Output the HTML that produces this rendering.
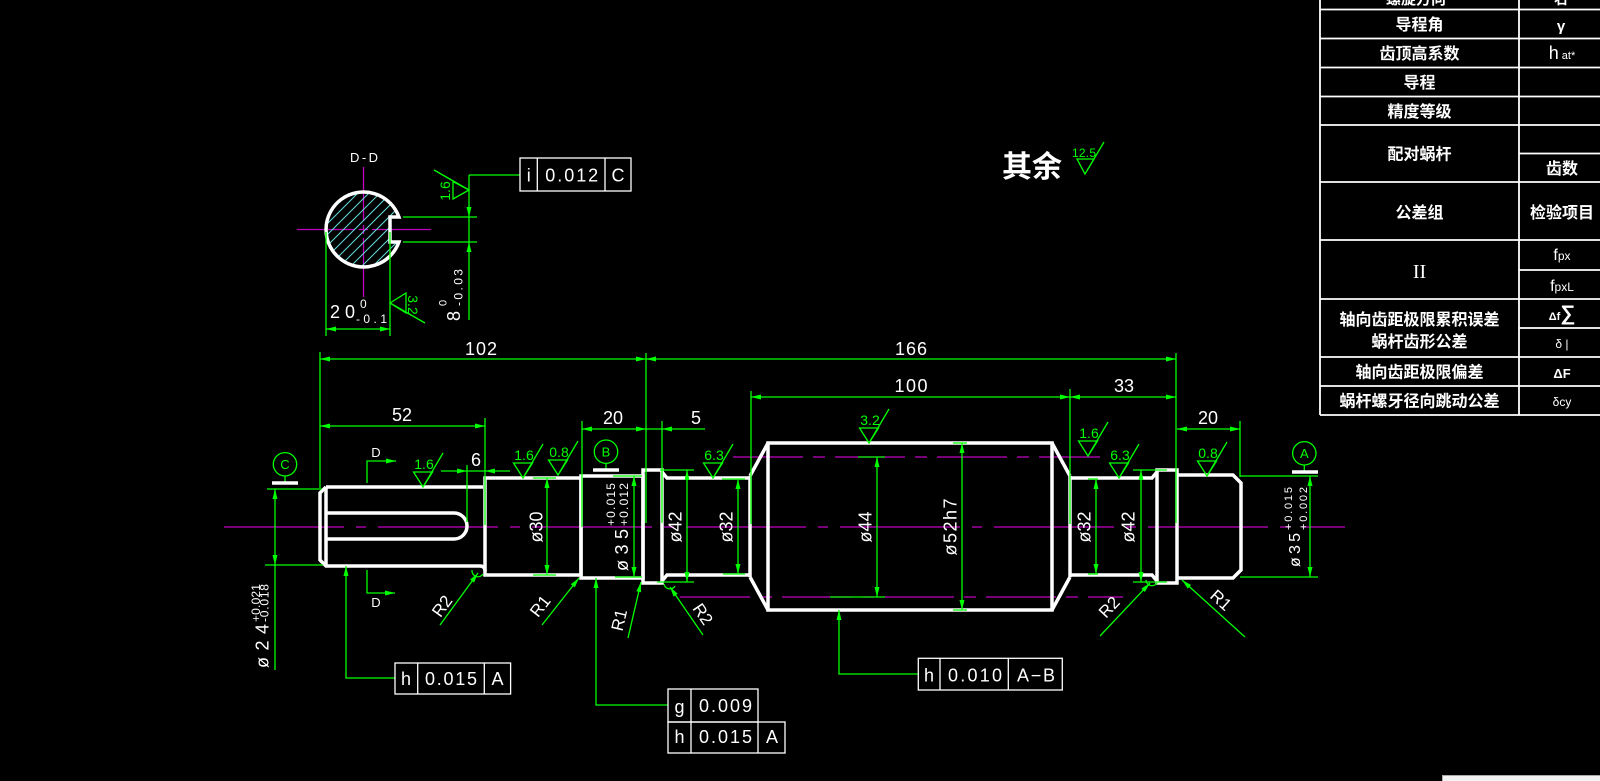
<!DOCTYPE html>
<html><head><meta charset="utf-8">
<style>
html,body{margin:0;padding:0;background:#000;}
svg{display:block;}
.t{fill:#fff;font-family:"Liberation Sans","Noto Sans CJK SC",sans-serif;}
.gt{fill:#00ff00;font-family:"Liberation Sans",sans-serif;}
.cj{fill:#fff;font-family:"Liberation Sans","Noto Sans CJK SC",sans-serif;font-weight:bold;}
</style></head>
<body>
<svg width="1600" height="781" viewBox="0 0 1600 781" xmlns="http://www.w3.org/2000/svg">
<rect width="1600" height="781" fill="#000"/>
<defs>
<clipPath id="ddclip"><path d="M398.9 217 A37.5 37.5 0 1 0 398.9 242 L390 242 L390 217 Z"/></clipPath>
</defs>

<!-- ===== TABLE ===== -->
<g stroke="#fff" stroke-width="1.8" fill="none">
<line x1="1320" y1="0" x2="1320" y2="415"/>
<line x1="1519" y1="0" x2="1519" y2="415"/>
<line x1="1320" y1="9.5" x2="1600" y2="9.5"/>
<line x1="1320" y1="38.5" x2="1600" y2="38.5"/>
<line x1="1320" y1="67.5" x2="1600" y2="67.5"/>
<line x1="1320" y1="96.5" x2="1600" y2="96.5"/>
<line x1="1320" y1="125" x2="1600" y2="125"/>
<line x1="1519" y1="153.5" x2="1600" y2="153.5"/>
<line x1="1320" y1="182" x2="1600" y2="182"/>
<line x1="1320" y1="240" x2="1600" y2="240"/>
<line x1="1519" y1="270" x2="1600" y2="270"/>
<line x1="1320" y1="299" x2="1600" y2="299"/>
<line x1="1519" y1="328" x2="1600" y2="328"/>
<line x1="1320" y1="357" x2="1600" y2="357"/>
<line x1="1320" y1="386" x2="1600" y2="386"/>
<line x1="1320" y1="415" x2="1600" y2="415"/>
</g>
<g text-anchor="middle">
<text class="cj" x="1416" y="4" style="font-size:15px">螺旋方向</text>
<text class="cj" x="1561" y="4" style="font-size:14px">右</text>
<text class="cj" x="1419.5" y="30" style="font-size:16px">导程角</text>
<text class="cj" x="1561" y="31" style="font-size:15px">γ</text>
<text class="cj" x="1419.5" y="59" style="font-size:16px">齿顶高系数</text>
<text class="t" x="1562" y="59"><tspan font-size="18">h</tspan><tspan font-size="11"> at*</tspan></text>
<text class="cj" x="1419.5" y="88" style="font-size:16px">导程</text>
<text class="cj" x="1419.5" y="117" style="font-size:16px">精度等级</text>
<text class="cj" x="1419.5" y="159.5" style="font-size:16px">配对蜗杆</text>
<text class="cj" x="1562" y="174" style="font-size:16px">齿数</text>
<text class="cj" x="1419.5" y="218" style="font-size:16px">公差组</text>
<text class="cj" x="1562" y="218" style="font-size:16px">检验项目</text>
<text x="1419.5" y="278" fill="#fff" font-family="Liberation Serif,serif" font-size="20">II</text>
<text class="t" x="1562" y="260"><tspan font-size="16">f</tspan><tspan font-size="12">px</tspan></text>
<text class="t" x="1562" y="291"><tspan font-size="16">f</tspan><tspan font-size="12">pxL</tspan></text>
<text class="cj" x="1419.5" y="325" style="font-size:16px">轴向齿距极限累积误差</text>
<text class="cj" x="1419.5" y="347" style="font-size:16px">蜗杆齿形公差</text>
<text class="t" x="1562" y="320" font-weight="bold"><tspan font-size="11">Δf</tspan><tspan font-size="21">∑</tspan></text>
<text class="t" x="1562" y="348" font-size="12">δ |</text>
<text class="cj" x="1419.5" y="377.5" style="font-size:16px">轴向齿距极限偏差</text>
<text class="t" x="1562" y="378" font-size="13" font-weight="bold">ΔF</text>
<text class="cj" x="1419.5" y="406.5" style="font-size:16px">蜗杆螺牙径向跳动公差</text>
<text class="t" x="1562" y="406" font-size="12">δcy</text>
</g>

<!-- 其余 -->
<text class="cj" x="1032" y="177" style="font-size:30px" text-anchor="middle">其余</text>

<!-- ===== MAGENTA CENTER LINES ===== -->
<g stroke="#c000c0" stroke-width="1.3" fill="none">
<line x1="224" y1="527" x2="1345" y2="527" stroke-dasharray="120 12 10 12"/>
<line x1="733" y1="457" x2="1100" y2="457" stroke-dasharray="70 10 12 10"/>
<line x1="680" y1="597" x2="1123" y2="597" stroke-dasharray="70 10 12 10"/>
<line x1="297" y1="229.5" x2="355" y2="229.5"/>
<line x1="359" y1="229.5" x2="368" y2="229.5"/>
<line x1="372" y1="229.5" x2="431" y2="229.5"/>
<line x1="363.5" y1="167" x2="363.5" y2="221"/>
<line x1="363.5" y1="225" x2="363.5" y2="234"/>
<line x1="363.5" y1="238" x2="363.5" y2="297"/>
</g>

<!-- ===== D-D SECTION ===== -->
<g clip-path="url(#ddclip)" stroke="#66dddd" stroke-width="1" fill="none">
<path d="M355 185L265 275M366 185L276 275M377 185L287 275M388 185L298 275M399 185L309 275M410 185L320 275M421 185L331 275M432 185L342 275M443 185L353 275M454 185L364 275M465 185L375 275"/>
</g>
<path d="M398.9 217 A37.5 37.5 0 1 0 398.9 242 L390 242 L390 217 Z" stroke="#fff" stroke-width="3.5" fill="none"/>
<text class="t" x="364" y="162" font-size="13" text-anchor="middle" textLength="28">D-D</text>

<!-- ===== SHAFT (white) ===== -->
<g stroke="#fff" stroke-width="3.5" fill="none" stroke-linejoin="miter">
<path d="M326 487 L483 487"/>
<path d="M326 487 L320 493 L320 560 L326 566 L480 566 Q485 566 485 571"/>
<line x1="326" y1="487" x2="326" y2="566"/>
<path d="M326 513 L454 513 A13 13 0 0 1 454 539 L326 539"/>
<rect x="485" y="478" width="96" height="97"/>
<rect x="581" y="476" width="62" height="102"/>
<rect x="643" y="470" width="19" height="113"/>
<path d="M662 472 L667 478 L750 478 M662 581 L667 575 L750 575"/>
<path d="M750 476 L750 577 M750 476 L768 443 M750 577 L768 610"/>
<rect x="768" y="443" width="284" height="167"/>
<path d="M1052 443 L1070 476 M1052 610 L1070 577 M1070 476 L1070 577"/>
<path d="M1070 478 L1152 478 L1157 472 M1070 575 L1152 575 L1157 581"/>
<rect x="1157" y="470" width="20" height="113"/>
<path d="M1177 475 L1233 475 L1241 483 L1241 570 L1233 578 L1177 578"/>
</g>

<!-- ===== GREEN LINES ===== -->
<g stroke="#00ff00" stroke-width="1.3" fill="none">
<line x1="320" y1="359" x2="1176" y2="359"/>
<line x1="320" y1="426" x2="485" y2="426"/>
<line x1="441" y1="471" x2="510" y2="471"/>
<line x1="582" y1="429" x2="705" y2="429"/>
<line x1="751" y1="397" x2="1176" y2="397"/>
<line x1="1177" y1="429" x2="1240" y2="429"/>
<line x1="320" y1="352" x2="320" y2="488"/>
<line x1="646" y1="353" x2="646" y2="523"/>
<line x1="485" y1="418" x2="485" y2="525"/>
<line x1="467" y1="465" x2="467" y2="522"/>
<line x1="582" y1="421" x2="582" y2="527"/>
<line x1="662" y1="421" x2="662" y2="523"/>
<line x1="751" y1="391" x2="751" y2="524"/>
<line x1="1070" y1="389" x2="1070" y2="524"/>
<line x1="1176" y1="353" x2="1176" y2="523"/>
<line x1="1240" y1="421" x2="1240" y2="477"/>
<line x1="267" y1="489" x2="322" y2="489"/>
<line x1="265" y1="565" x2="323" y2="565"/>
<line x1="275" y1="489" x2="275" y2="670"/>
<line x1="547" y1="478" x2="547" y2="575"/><line x1="533" y1="478" x2="556" y2="478"/><line x1="533" y1="575" x2="556" y2="575"/>
<line x1="634" y1="476" x2="634" y2="577"/><line x1="613" y1="476" x2="642" y2="476"/><line x1="615" y1="577" x2="642" y2="577"/>
<line x1="687" y1="470" x2="687" y2="582"/><line x1="660" y1="470" x2="694" y2="470"/><line x1="657" y1="582" x2="694" y2="582"/>
<line x1="738" y1="479" x2="738" y2="574"/><line x1="722" y1="479" x2="745" y2="479"/><line x1="723" y1="574" x2="745" y2="574"/>
<line x1="877" y1="457" x2="877" y2="597"/><line x1="858" y1="457" x2="885" y2="457"/><line x1="830" y1="597" x2="885" y2="597"/>
<line x1="962" y1="443" x2="962" y2="610"/><line x1="953" y1="443" x2="967" y2="443"/><line x1="953" y1="610" x2="967" y2="610"/>
<line x1="1096" y1="479" x2="1096" y2="574"/><line x1="1088" y1="479" x2="1098" y2="479"/><line x1="1088" y1="574" x2="1098" y2="574"/>
<line x1="1141" y1="470" x2="1141" y2="582"/><line x1="1133" y1="470" x2="1167" y2="470"/><line x1="1133" y1="582" x2="1167" y2="582"/>
<line x1="1310" y1="476" x2="1310" y2="577"/><line x1="1240" y1="476" x2="1318" y2="476"/><line x1="1240" y1="577" x2="1318" y2="577"/>
<path d="M367 483 V461 H396"/>
<path d="M367 570 V593 H395"/>
<circle cx="285" cy="464.3" r="11.7"/><line x1="285" y1="476" x2="285" y2="482"/>
<circle cx="606" cy="451.7" r="11.7"/><line x1="606" y1="463.4" x2="606" y2="469"/>
<circle cx="1304.3" cy="453.3" r="11.7"/><line x1="1304.3" y1="465" x2="1304.3" y2="471"/>
<path d="M346 566 V678 H395"/>
<path d="M596 578 V705 H668"/>
<path d="M839 610 V674 H918"/>
<line x1="440" y1="625" x2="478" y2="573"/>
<line x1="542" y1="625" x2="579" y2="578"/>
<line x1="628" y1="638" x2="641" y2="582"/>
<line x1="703" y1="635" x2="670" y2="587"/>
<line x1="1100" y1="636" x2="1150" y2="583"/>
<line x1="1245" y1="637" x2="1182" y2="580"/>
<path d="M472 570 a6 6 0 0 0 11 4"/>
<path d="M664 584 a6 6 0 0 0 11 2"/>
<path d="M1146 580 a6 6 0 0 0 11 3"/>
<path d="M413.5 472H432.5L423 487Z M423 487L443 453"/>
<path d="M513.5 463H532.5L523 478Z M523 478L543 444"/>
<path d="M548.5 460H567.5L558 475Z M558 475L578 441"/>
<path d="M703.5 463H722.5L713 478Z M713 478L733 444"/>
<path d="M859.5 428H878.5L869 443Z M869 443L889 409"/>
<path d="M1078.5 441H1097.5L1088 456Z M1088 456L1108 422"/>
<path d="M1109.5 463H1128.5L1119 478Z M1119 478L1139 444"/>
<path d="M1197.5 461H1216.5L1207 476Z M1207 476L1227 442"/>
<path d="M1077 159H1094L1085 174Z M1085 174L1104 142"/>
<line x1="326" y1="232" x2="326" y2="336"/>
<line x1="390" y1="232" x2="390" y2="336"/>
<line x1="326" y1="329" x2="390" y2="329"/>
<line x1="403" y1="217" x2="477" y2="217"/>
<line x1="403" y1="242" x2="477" y2="242"/>
<line x1="469" y1="175" x2="469" y2="320"/>
<line x1="469" y1="175" x2="520" y2="175"/>
<path d="M469 190 L453 181.5 L453 199 Z M469 190 L434 170"/>
<path d="M390 303 L406 293 L406 313 Z M390 303 L425 323"/>
</g>

<g stroke="#fff" stroke-width="3.5">
<line x1="272" y1="483" x2="298" y2="483"/>
<line x1="593" y1="470" x2="619" y2="470"/>
<line x1="1292" y1="472" x2="1318" y2="472"/>
</g>

<!-- ===== ARROWS ===== -->
<g fill="#00ff00">
<path d="M320 359l10 -2.5v5z M646 359l-10 -2.5v5z M646 359l10 -2.5v5z M1176 359l-10 -2.5v5z"/>
<path d="M320 426l10 -2.5v5z M485 426l-10 -2.5v5z M467 471l-10 -2.5v5z M485 471l10 -2.5v5z"/>
<path d="M582 429l10 -2.5v5z M646 429l-10 -2.5v5z M662 429l10 -2.5v5z"/>
<path d="M751 397l10 -2.5v5z M1070 397l-10 -2.5v5z M1070 397l10 -2.5v5z M1176 397l-10 -2.5v5z"/>
<path d="M1177 429l10 -2.5v5z M1240 429l-10 -2.5v5z M326 329l10 -2.5v5z M390 329l-10 -2.5v5z"/>
<path d="M275 489l-2.5 10h5z M275 565l-2.5 -10h5z"/>
<path d="M547 478l-2.5 10h5z M547 575l-2.5 -10h5z"/>
<path d="M634 476l-2.5 10h5z M634 577l-2.5 -10h5z"/>
<path d="M687 470l-2.5 10h5z M687 582l-2.5 -10h5z"/>
<path d="M738 479l-2.5 10h5z M738 574l-2.5 -10h5z"/>
<path d="M877 457l-2.5 10h5z M877 597l-2.5 -10h5z"/>
<path d="M962 443l-2.5 10h5z M962 610l-2.5 -10h5z"/>
<path d="M1096 479l-2.5 10h5z M1096 574l-2.5 -10h5z"/>
<path d="M1141 470l-2.5 10h5z M1141 582l-2.5 -10h5z"/>
<path d="M1310 476l-2.5 10h5z M1310 577l-2.5 -10h5z"/>
<path d="M469 217l-2.5 -10h5z M469 242l-2.5 10h5z"/>
<path d="M346 566l-2.5 10h5z M596 578l-2.5 10h5z M839 610l-2.5 10h5z"/>
<path d="M396 461l-10 -2.5v5z M395 593l-10 -2.5v5z"/>
<path d="M478 573L474.1 582.6L470.1 579.6Z"/>
<path d="M579 578L574.8 587.4L570.8 584.3Z"/>
<path d="M641 582L641.1 592.3L636.3 591.2Z"/>
<path d="M670 587L677.7 593.8L673.6 596.6Z"/>
<path d="M1150 583L1144.9 592L1141.3 588.6Z"/>
<path d="M1182 580L1191.1 584.9L1187.7 588.6Z"/>
</g>

<!-- ===== GREEN TEXT ===== -->
<g class="gt" text-anchor="middle" font-size="14">
<text x="424" y="469">1.6</text>
<text x="524" y="460">1.6</text>
<text x="559" y="457">0.8</text>
<text x="714" y="460">6.3</text>
<text x="870" y="425">3.2</text>
<text x="1089" y="438">1.6</text>
<text x="1120" y="460">6.3</text>
<text x="1208" y="458">0.8</text>
<text x="1084" y="157" font-size="12" textLength="24">12.5</text>
<text x="285" y="469" font-size="13">C</text>
<text x="606" y="456.5" font-size="13">B</text>
<text x="1304.3" y="458" font-size="13">A</text>
<text transform="translate(445,191) rotate(-90)" dy="0.35em">1.6</text>
<text transform="translate(413,305) rotate(90)" dy="0.35em">3.2</text>
</g>

<!-- ===== WHITE DIM TEXT ===== -->
<g class="t" font-size="18" text-anchor="middle">
<text x="481" y="355" textLength="32">102</text>
<text x="911" y="355" textLength="32">166</text>
<text x="402" y="421">52</text>
<text x="476" y="466">6</text>
<text x="613" y="424">20</text>
<text x="696" y="424">5</text>
<text x="911" y="392" textLength="33">100</text>
<text x="1124" y="392">33</text>
<text x="1208" y="424">20</text>
<text x="376" y="457" font-size="13">D</text>
<text x="376" y="607" font-size="13">D</text>
<text transform="translate(536,527) rotate(-90)" dy="0.35em">ø30</text>
<text transform="translate(675,527) rotate(-90)" dy="0.35em">ø42</text>
<text transform="translate(726,527) rotate(-90)" dy="0.35em">ø32</text>
<text transform="translate(865,527) rotate(-90)" dy="0.35em">ø44</text>
<text transform="translate(950,527) rotate(-90)" dy="0.35em" textLength="57">ø52h7</text>
<text transform="translate(1084,527) rotate(-90)" dy="0.35em">ø32</text>
<text transform="translate(1128,527) rotate(-90)" dy="0.35em">ø42</text>
<text transform="translate(442,606) rotate(-54)" dy="0.35em" font-size="17">R2</text>
<text transform="translate(540,606) rotate(-52)" dy="0.35em" font-size="17">R1</text>
<text transform="translate(619,620) rotate(-77)" dy="0.35em" font-size="17">R1</text>
<text transform="translate(703,614) rotate(56)" dy="0.35em" font-size="17">R2</text>
<text transform="translate(1109,607) rotate(-47)" dy="0.35em" font-size="17">R2</text>
<text transform="translate(1221,600) rotate(42)" dy="0.35em" font-size="17">R1</text>
</g>
<g class="t">
<g transform="translate(268.6,668) rotate(-90)">
<text x="0" y="0" font-size="18" textLength="44">ø24</text>
<text x="46" y="-8.6" font-size="12" textLength="38">+0.021</text>
<text x="46" y="0" font-size="12" textLength="38">-0.018</text>
</g>
<g transform="translate(628,571) rotate(-90)">
<text x="0" y="0" font-size="18" textLength="42">ø35</text>
<text x="45" y="-13" font-size="12" textLength="43">+0.015</text>
<text x="45" y="0" font-size="12" textLength="43">+0.012</text>
</g>
<g transform="translate(1300,567) rotate(-90)">
<text x="0" y="0" font-size="16" textLength="34">ø35</text>
<text x="37" y="-8" font-size="11" textLength="43">+0.015</text>
<text x="37" y="7" font-size="11" textLength="43">+0.002</text>
</g>
<g transform="translate(460,321) rotate(-90)">
<text x="0" y="0" font-size="18">8</text>
<text x="15" y="-13.3" font-size="11">0</text>
<text x="15" y="2.7" font-size="12" textLength="37">-0.03</text>
</g>
<text x="330" y="318" font-size="18" textLength="25">20</text>
<text x="360" y="308" font-size="12">0</text>
<text x="356" y="323" font-size="12" textLength="31">-0.1</text>
</g>

<!-- ===== FEATURE CONTROL FRAMES ===== -->
<g stroke="#fff" stroke-width="1.3" fill="none">
<rect x="520" y="158" width="111" height="33"/>
<line x1="537.3" y1="158" x2="537.3" y2="191"/><line x1="605" y1="158" x2="605" y2="191"/>
<rect x="395" y="663" width="115.6" height="31"/>
<line x1="417.7" y1="663" x2="417.7" y2="694"/><line x1="484.3" y1="663" x2="484.3" y2="694"/>
<rect x="668" y="689" width="90" height="33"/>
<line x1="691" y1="689" x2="691" y2="722"/>
<rect x="668" y="722" width="117" height="31"/>
<line x1="691" y1="722" x2="691" y2="753"/><line x1="758" y1="722" x2="758" y2="753"/>
<rect x="918.3" y="658.3" width="144" height="31.7"/>
<line x1="940" y1="658.3" x2="940" y2="690"/><line x1="1008.3" y1="658.3" x2="1008.3" y2="690"/>
</g>
<g class="t" font-size="18" text-anchor="middle">
<text x="528.7" y="181.7">i</text>
<text x="571.7" y="181.7" textLength="53">0.012</text>
<text x="618" y="181.7">C</text>
<text x="406" y="685">h</text>
<text x="451" y="685" textLength="52">0.015</text>
<text x="497.5" y="685">A</text>
<text x="679.5" y="713">g</text>
<text x="725.5" y="712" textLength="53">0.009</text>
<text x="679.5" y="743">h</text>
<text x="725.5" y="743" textLength="53">0.015</text>
<text x="772" y="743">A</text>
<text x="929" y="681.7">h</text>
<text x="975" y="681.7" textLength="54">0.010</text>
<text x="1036" y="681.7" textLength="38">A−B</text>
</g>

<rect x="1442.5" y="775.5" width="158" height="7" fill="#f2f2f2" stroke="#aaa" stroke-width="1"/>
</svg>
</body></html>
